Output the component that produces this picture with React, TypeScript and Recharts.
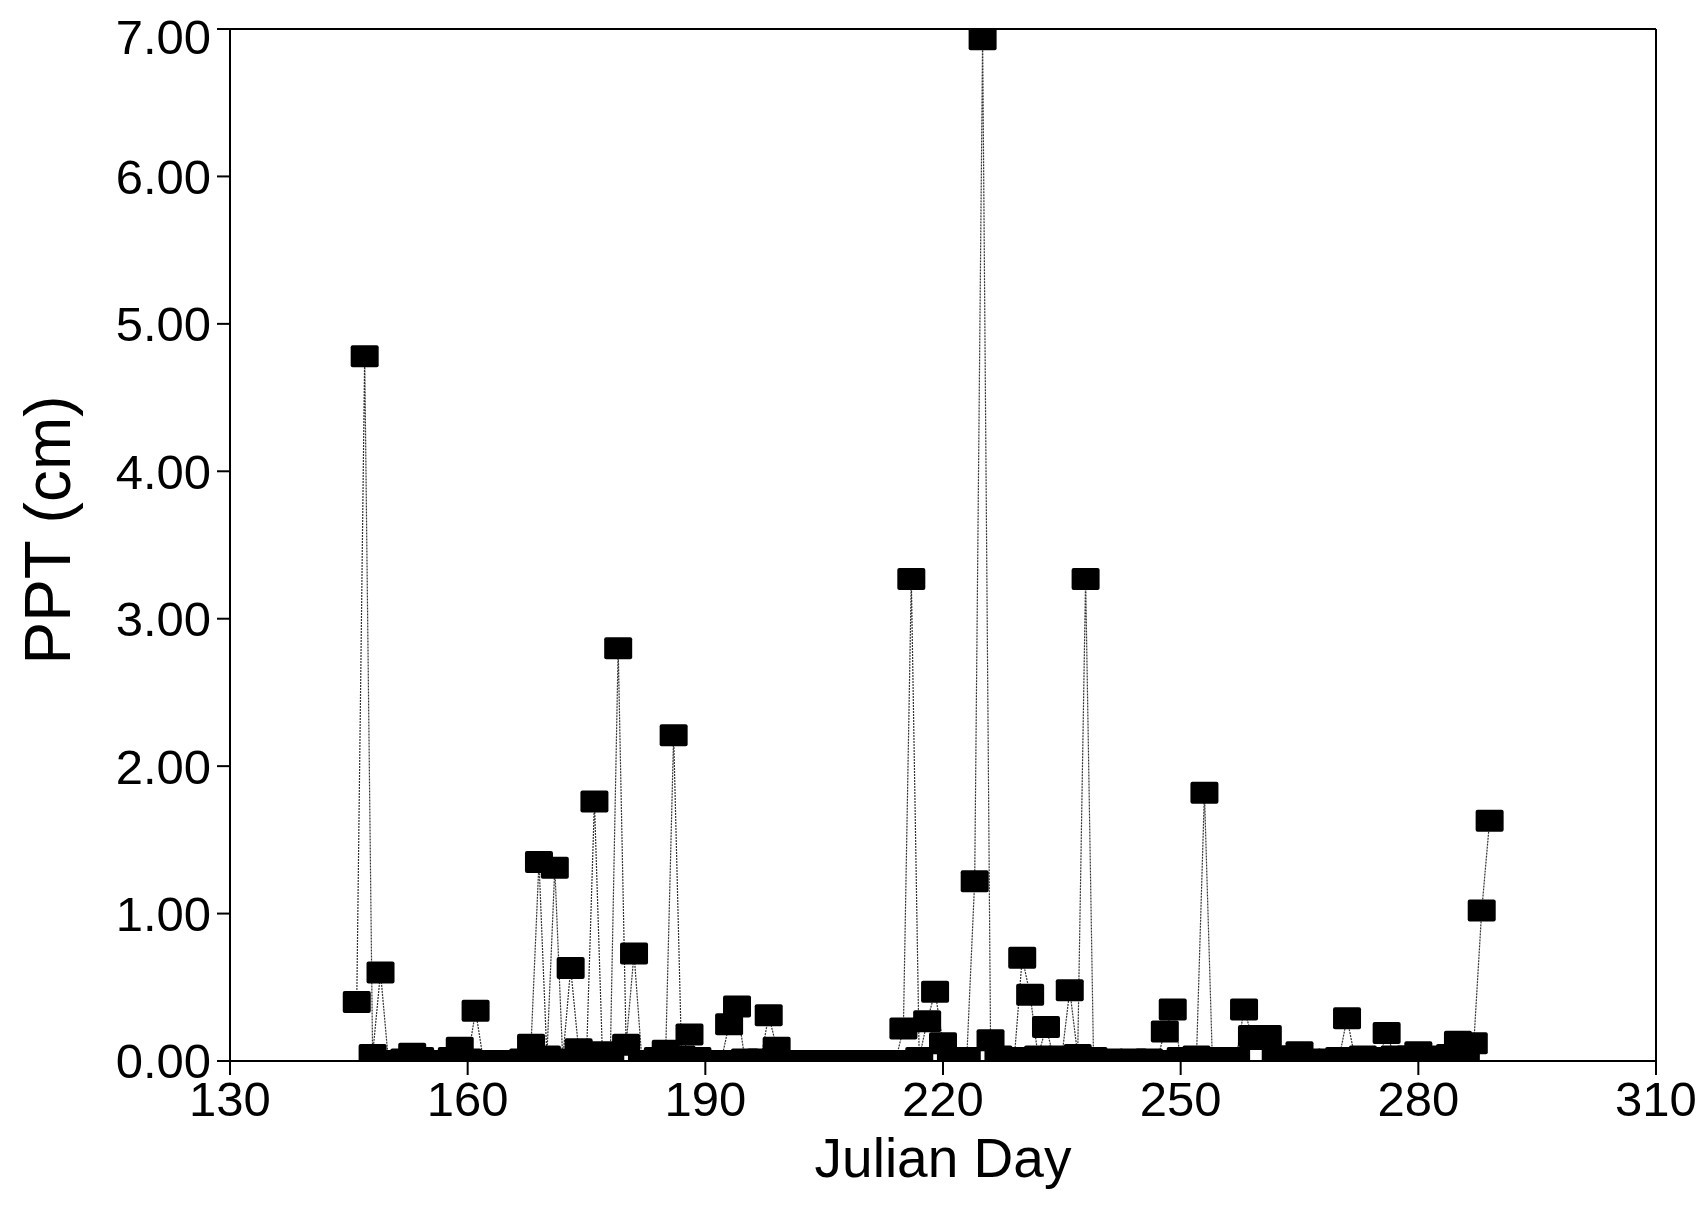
import React from "react";
import { LineChart, Line, XAxis, YAxis, ReferenceLine, Label } from "recharts";

const days: number[] = [
  146, 147, 148, 149, 150, 151, 152, 153, 154, 155, 156, 157, 158, 159, 160, 161, 162, 163, 164, 165,
  166, 167, 168, 169, 170, 171, 172, 173, 174, 175, 176, 177, 178, 179, 180, 181, 182, 183, 184, 185,
  186, 187, 188, 189, 190, 191, 192, 193, 194, 195, 196, 197, 198, 199, 200, 201, 202, 203, 204, 205,
  206, 207, 208, 209, 210, 211, 212, 213, 214, 215, 216, 217, 218, 219, 220, 221, 222, 223, 224, 225,
  226, 227, 228, 229, 230, 231, 232, 233, 234, 235, 236, 237, 238, 239, 240, 241, 242, 243, 244, 245,
  246, 247, 248, 249, 250, 251, 252, 253, 254, 255, 256, 257, 258, 259, 260, 261, 262, 263, 264, 265,
  266, 267, 268, 269, 270, 271, 272, 273, 274, 275, 276, 277, 278, 279, 280, 281, 282, 283, 284, 285,
  286, 287, 288, 289,
];

const ppt: number[] = [
  0.40, 4.78, 0.04, 0.60, 0.00, 0.00, 0.01, 0.05, 0.02, 0.00, 0.00, 0.00, 0.02, 0.09, 0.01, 0.34, 0.00, 0.00, 0.00, 0.00,
  0.00, 0.01, 0.11, 1.35, 0.03, 1.31, 0.01, 0.63, 0.08, 0.03, 1.76, 0.06, 0.02, 2.80, 0.11, 0.73, 0.00, 0.00, 0.02, 0.07,
  2.21, 0.03, 0.18, 0.02, 0.00, 0.00, 0.00, 0.25, 0.37, 0.01, 0.00, 0.01, 0.31, 0.09, 0.00, 0.00, 0.00, 0.00, 0.00, 0.00,
  0.00, 0.00, 0.00, 0.00, 0.00, 0.00, 0.00, 0.00, 0.00, 0.22, 3.27, 0.02, 0.27, 0.47, 0.12, 0.00, 0.01, 0.02, 1.22, 6.93,
  0.14, 0.03, 0.01, 0.02, 0.70, 0.45, 0.03, 0.23, 0.02, 0.03, 0.48, 0.04, 3.27, 0.02, 0.00, 0.01, 0.00, 0.00, 0.01, 0.00,
  0.01, 0.00, 0.20, 0.35, 0.02, 0.01, 0.03, 1.82, 0.01, 0.02, 0.00, 0.02, 0.35, 0.17, 0.15, 0.17, 0.03, 0.02, 0.03, 0.06,
  0.01, 0.00, 0.00, 0.01, 0.02, 0.29, 0.02, 0.03, 0.02, 0.01, 0.19, 0.03, 0.02, 0.03, 0.06, 0.02, 0.01, 0.03, 0.04, 0.13,
  0.07, 0.12, 1.02, 1.63,
];

const xTicks: number[] = [130, 160, 190, 220, 250, 280, 310];
const yTicks: number[] = [0, 1, 2, 3, 4, 5, 6, 7];

const data = days.map((d, i) => ({ day: d, ppt: ppt[i] }));

const FONT = "'Liberation Sans', Arial, Helvetica, sans-serif";

const Square = (props: any) => {
  const { cx, cy, index } = props;
  if (cx == null || cy == null) return <g key={`s${index}`} />;
  return <rect key={`s${index}`} x={cx - 14} y={cy - 11} width={28} height={22} rx={2} fill="#000" />;
};

export default function App() {
  return (
    <div style={{ width: 1690, height: 1190, background: "#fff" }}>
      <LineChart
        width={1690}
        height={1190}
        data={data}
        margin={{ top: 21, right: 42, left: 92, bottom: 0 }}
      >
        <XAxis
          dataKey="day"
          type="number"
          domain={[130, 310]}
          ticks={xTicks}
          allowDataOverflow
          height={137}
          tickSize={14}
          tickMargin={6}
          axisLine={{ stroke: "#000", strokeWidth: 2 }}
          tickLine={{ stroke: "#000", strokeWidth: 2 }}
          tick={{ fontSize: 49, fill: "#000", fontFamily: FONT }}
        >
          <Label
            content={() => (
              <text x={935} y={1169} textAnchor="middle" fontSize={55} fontFamily={FONT} fill="#000">
                Julian Day
              </text>
            )}
          />
        </XAxis>
        <YAxis
          type="number"
          domain={[0, 7]}
          ticks={yTicks}
          allowDataOverflow
          width={130}
          tickSize={13}
          tickMargin={6}
          tickFormatter={(v: number) => v.toFixed(2)}
          axisLine={{ stroke: "#000", strokeWidth: 2 }}
          tickLine={{ stroke: "#000", strokeWidth: 2 }}
          tick={{ fontSize: 49, fill: "#000", fontFamily: FONT }}
        >
          <Label
            content={() => (
              <text
                x={40}
                y={522}
                transform="rotate(-90 40 522)"
                textAnchor="middle"
                dominantBaseline="central"
                fontSize={64}
                fontFamily={FONT}
                fill="#000"
              >
                PPT (cm)
              </text>
            )}
          />
        </YAxis>
        <ReferenceLine y={7} stroke="#000" strokeWidth={2} />
        <ReferenceLine x={310} stroke="#000" strokeWidth={2} />
        <Line
          type="linear"
          dataKey="ppt"
          stroke="#333"
          strokeWidth={1.2}
          strokeDasharray="2 1"
          dot={(p: any) => <Square key={`d${p.index}`} {...p} />}
          activeDot={false}
          isAnimationActive={false}
        />
      </LineChart>
    </div>
  );
}
